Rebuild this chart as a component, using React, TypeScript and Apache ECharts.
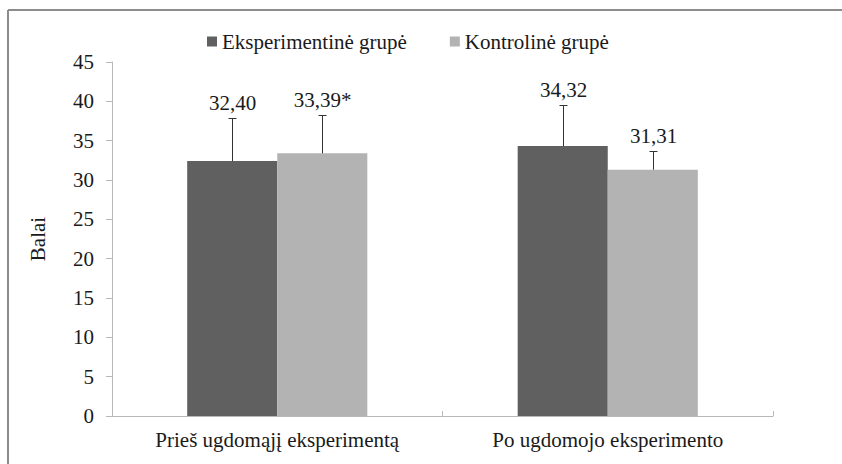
import React, { useEffect, useRef } from "react";
import * as echarts from "echarts";

const categories = ["Prieš ugdomąjį eksperimentą", "Po ugdomojo eksperimento"];
const seriesNames = ["Eksperimentinė grupė", "Kontrolinė grupė"];
const expMeans = [32.4, 34.32];
const ctrlMeans = [33.39, 31.31];
const expSd = [5.5, 5.25];
const ctrlSd = [4.9, 2.4];
const expLabels = ["32,40", "34,32"];
const ctrlLabels = ["33,39*", "31,31"];
const yTicks = [0, 5, 10, 15, 20, 25, 30, 35, 40, 45];

const FONT = "'Liberation Serif', 'Times New Roman', serif";
const FS = 21;
const DARK = "#606060";
const LIGHT = "#b3b3b3";
const GAP = 0.455;

function errorSeries(name: string, means: number[], sds: number[], labels: string[], side: number) {
  return {
    type: "custom",
    name: name + " err",
    silent: true,
    z: 5,
    data: means.map((m, i) => [i, m, sds[i]]),
    encode: { x: 0, y: 1 },
    renderItem: (params: any, api: any) => {
      const ci = api.value(0);
      const mean = api.value(1);
      const sd = api.value(2);
      const base = api.coord([ci, mean]);
      const top = api.coord([ci, mean + sd]);
      const catW = api.size([1, 0])[0];
      const barW = (catW * (1 - GAP)) / 2;
      const x = Math.round(base[0] + (side * barW) / 2) + 0.5;
      const ty = Math.round(top[1]) + 0.5;
      return {
        type: "group",
        children: [
          { type: "line", shape: { x1: x, y1: base[1], x2: x, y2: ty }, style: { stroke: "#333", lineWidth: 1 } },
          { type: "line", shape: { x1: x - 4, y1: ty, x2: x + 4, y2: ty }, style: { stroke: "#333", lineWidth: 1 } },
          {
            type: "text",
            x: x,
            y: ty - 5,
            style: {
              text: labels[params.dataIndex],
              fill: "#1a1a1a",
              fontFamily: FONT,
              fontSize: FS,
              align: "center",
              verticalAlign: "bottom",
            },
          },
        ],
      };
    },
  };
}

export default function App() {
  const ref = useRef<HTMLDivElement>(null);
  useEffect(() => {
    document.body.style.margin = "0";
    const chart = echarts.init(ref.current!, null, { renderer: "svg" });
    chart.setOption({
      animation: false,
      backgroundColor: "#ffffff",
      textStyle: { fontFamily: FONT },
      legend: {
        top: 26,
        left: 202,
        itemWidth: 10,
        itemHeight: 10,
        itemGap: 43,
        icon: "rect",
        data: seriesNames,
        textStyle: { fontFamily: FONT, fontSize: FS, color: "#1a1a1a" },
      },
      grid: { left: 112, right: 69, top: 62, bottom: 48, containLabel: false },
      xAxis: {
        type: "category",
        data: categories,
        axisLine: { lineStyle: { color: "#b8b8b8", width: 1 } },
        axisTick: { show: true, inside: true, length: 5, lineStyle: { color: "#b8b8b8" } },
        axisLabel: { fontFamily: FONT, fontSize: FS, color: "#1a1a1a", margin: 13 },
      },
      yAxis: {
        type: "value",
        min: 0,
        max: 45,
        interval: 5,
        name: "Balai",
        nameLocation: "middle",
        nameGap: 64,
        nameTextStyle: { fontFamily: FONT, fontSize: FS, color: "#1a1a1a" },
        axisLine: { show: true, lineStyle: { color: "#b8b8b8" } },
        axisTick: { show: true, length: 6, lineStyle: { color: "#b8b8b8" } },
        splitLine: { show: false },
        axisLabel: {
          fontFamily: FONT,
          fontSize: FS,
          color: "#1a1a1a",
          margin: 18,
          formatter: (v: number) => (yTicks.includes(v) ? String(v) : ""),
        },
      },
      series: [
        {
          type: "bar",
          name: seriesNames[0],
          data: expMeans,
          itemStyle: { color: DARK },
          barGap: "0%",
          barCategoryGap: GAP * 100 + "%",
        },
        {
          type: "bar",
          name: seriesNames[1],
          data: ctrlMeans,
          itemStyle: { color: LIGHT },
          barGap: "0%",
          barCategoryGap: GAP * 100 + "%",
        },
        errorSeries(seriesNames[0], expMeans, expSd, expLabels, -1),
        errorSeries(seriesNames[1], ctrlMeans, ctrlSd, ctrlLabels, 1),
      ],
      graphic: [
        { type: "line", shape: { x1: 8, y1: 10, x2: 842, y2: 10 }, style: { stroke: "#8c8c8c", lineWidth: 2 } },
        { type: "line", shape: { x1: 8, y1: 10, x2: 8, y2: 464 }, style: { stroke: "#8c8c8c", lineWidth: 2 } },
      ],
    });
    return () => chart.dispose();
  }, []);
  return <div ref={ref} style={{ width: 842, height: 464 }} />;
}
